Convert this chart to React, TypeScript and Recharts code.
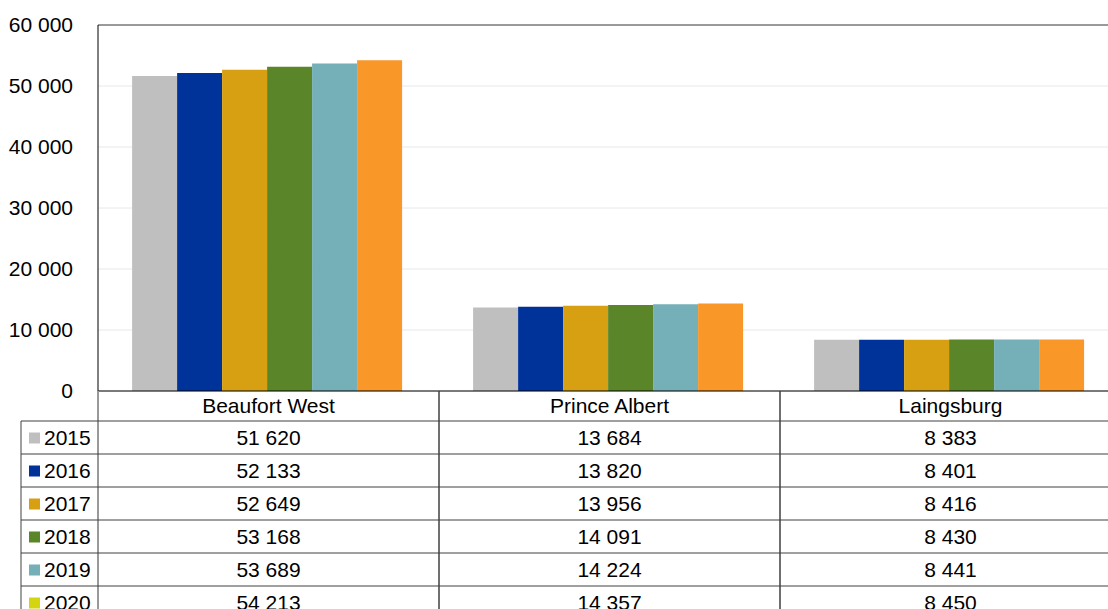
import { BarChart, Bar, XAxis, YAxis, CartesianGrid, ReferenceLine } from "recharts"

const categories = ["Beaufort West", "Prince Albert", "Laingsburg"]
const years = ["2015", "2016", "2017", "2018", "2019", "2020"]
const v2015 = [51620, 13684, 8383]
const v2016 = [52133, 13820, 8401]
const v2017 = [52649, 13956, 8416]
const v2018 = [53168, 14091, 8430]
const v2019 = [53689, 14224, 8441]
const v2020 = [54213, 14357, 8450]
const yTicks = [0, 10000, 20000, 30000, 40000, 50000, 60000]

const series = [v2015, v2016, v2017, v2018, v2019, v2020]
const barColors = ["#bfbfbf", "#003399", "#d6a012", "#5b8529", "#75afb7", "#f99728"]
// the 2020 legend marker in the table differs from its bar colour in the source
const keyColors = ["#bfbfbf", "#003399", "#d6a012", "#5b8529", "#75afb7", "#d4d410"]

const data = categories.map((name, i) => {
  const row: Record<string, string | number> = { name }
  years.forEach((y, j) => {
    row[y] = series[j][i]
  })
  return row
})

const FONT = "'Liberation Sans', Arial, sans-serif"
const W = 1125
const H = 625
const LEFT = 98
const RIGHT = 4
const BW = (W - LEFT - RIGHT) / categories.length
const HEADER_H = 30
const ROW_H = 33
const LINE = "#404040"

const fmt = (v: number) => String(v).replace(/\B(?=(\d{3})+(?!\d))/g, " ")

function TableTick(props: any) {
  const { x, y, payload } = props
  const idx: number = payload.index
  const x0 = x - BW / 2
  const x1 = x + BW / 2
  const bottom = y + HEADER_H + ROW_H * years.length
  return (
    <g fontFamily={FONT} fontSize={21} fill="#000">
      <text x={x} y={y + HEADER_H / 2} dy="0.35em" textAnchor="middle">
        {payload.value}
      </text>
      <line x1={x0} x2={x0} y1={y} y2={bottom} stroke={idx === 0 ? "#999" : LINE} strokeWidth={idx === 0 ? 2 : 1} />
      <line x1={x1} x2={x1} y1={y} y2={bottom} stroke={LINE} />
      {years.map((yr, j) => {
        const top = y + HEADER_H + ROW_H * j
        return (
          <g key={yr}>
            <line x1={idx === 0 ? 21 : x0} x2={x1} y1={top} y2={top} stroke={LINE} />
            <text x={x} y={top + ROW_H / 2} dy="0.35em" textAnchor="middle">
              {fmt(series[j][idx])}
            </text>
            {idx === 0 && (
              <>
                <rect x={29} y={top + ROW_H / 2 - 5} width={11} height={11} fill={keyColors[j]} />
                <text x={44} y={top + ROW_H / 2} dy="0.35em">
                  {yr}
                </text>
              </>
            )}
          </g>
        )
      })}
      {idx === 0 && <line x1={21} x2={21} y1={y + HEADER_H} y2={bottom} stroke={LINE} />}
    </g>
  )
}

export default function App() {
  return (
    <div
      style={{
        position: "fixed",
        left: 0,
        top: 0,
        width: 1108,
        height: 609,
        overflow: "hidden",
        background: "#fff",
      }}
    >
      <BarChart
        width={W}
        height={H}
        data={data}
        margin={{ top: 25, right: RIGHT, left: 0, bottom: 0 }}
        barCategoryGap="10%"
        barGap={0}
      >
        <CartesianGrid vertical={false} stroke="#e8e8e8" />
        <XAxis
          dataKey="name"
          interval={0}
          height={H - 25 - 391 + 25}
          tickSize={0}
          tickMargin={0}
          tickLine={false}
          axisLine={{ stroke: "#000" }}
          tick={<TableTick />}
        />
        <YAxis
          width={LEFT}
          domain={[0, 60000]}
          ticks={yTicks}
          tickFormatter={fmt}
          tickSize={0}
          tickMargin={25}
          tickLine={false}
          axisLine={{ stroke: "#000" }}
          tick={{ fontSize: 21, fill: "#000", fontFamily: FONT }}
        />
        <ReferenceLine y={60000} stroke={LINE} />
        {years.map((yr, j) => (
          <Bar key={yr} dataKey={yr} fill={barColors[j]} isAnimationActive={false} />
        ))}
      </BarChart>
    </div>
  )
}
